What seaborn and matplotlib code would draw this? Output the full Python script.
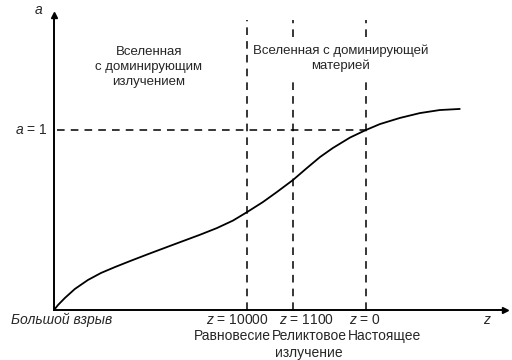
import matplotlib
matplotlib.use("Agg")
import matplotlib.pyplot as plt
import seaborn as sns
import pandas as pd

#  Scale factor a vs. time (arbitrary units, present = 1)
t_vals = [0.0, 0.013, 0.035, 0.067, 0.109, 0.151, 0.196, 0.247, 0.301,
          0.381, 0.468, 0.522, 0.574, 0.619, 0.670, 0.715, 0.766, 0.811,
          0.853, 0.894, 0.949, 1.0, 1.045, 1.109, 1.173, 1.237, 1.301]
a_vals = [0.0, 0.028, 0.067, 0.117, 0.167, 0.206, 0.239, 0.274, 0.310,
          0.362, 0.418, 0.455, 0.497, 0.544, 0.600, 0.656, 0.722, 0.789,
          0.850, 0.900, 0.958, 1.0, 1.033, 1.067, 1.094, 1.111, 1.117]

#  Epochs marked on the time axis
event_t = [0.619, 0.766, 1.0]
event_z = ["$z$ = 10000", "$z$ = 1100", "$z$ = 0"]
event_names = ["Равновесие", "Реликтовое\nизлучение", "Настоящее"]

era_labels = ["Вселенная\nс доминирующим\nизлучением",
              "Вселенная с доминирующей\nматерией"]

df = pd.DataFrame({"t": t_vals, "a": a_vals})

sns.set_style("white")
plt.rcParams["font.family"] = ["Liberation Sans", "DejaVu Sans"]
plt.rcParams["mathtext.fontset"] = "custom"
plt.rcParams["mathtext.it"] = "Liberation Sans:italic"
plt.rcParams["mathtext.rm"] = "Liberation Sans"

fig = plt.figure(figsize=(5.12, 3.6), dpi=100)
ax = fig.add_axes([54 / 512, 50 / 360, 451 / 512, 295 / 360])
ax.set_xlim(0, 1.446)
ax.set_ylim(0, 1.639)

sns.lineplot(data=df, x="t", y="a", color="black", lw=1.3,
             estimator=None, sort=False, ax=ax)

#  dashed guides (the two right ones are broken by the label)
dash = (0, (5, 4))
ax.vlines(event_t[0], 0, 1.611, colors="black", lw=1.1, linestyles=dash)
ax.vlines(event_t[1:], 0, 1.278, colors="black", lw=1.1, linestyles=dash)
ax.vlines(event_t[1:], 1.517, 1.611, colors="black", lw=1.1, linestyles=dash)
ax.hlines(1.0, 0.01, event_t[2], colors="black", lw=1.1, linestyles=dash)

#  axes as arrows
for s in ["top", "right"]:
    ax.spines[s].set_visible(False)
for s in ["left", "bottom"]:
    ax.spines[s].set_linewidth(1.4)
    ax.spines[s].set_color("black")
ax.set_xticks([])
ax.set_yticks([])
ax.set_xlabel("")
ax.set_ylabel("")
ax.plot(1, 0, ">k", ms=5, transform=ax.get_yaxis_transform(), clip_on=False)
ax.plot(0, 1, "^k", ms=5, transform=ax.get_xaxis_transform(), clip_on=False)

fs = 10
ax.text(-0.048, 1.665, "a", style="italic", fontsize=fs, ha="center", va="center")
ax.text(-0.022, 1.0, "$a$ = 1", fontsize=fs, ha="right", va="center")
ax.text(0.026, -0.056, "Большой взрыв", style="italic", fontsize=fs,
        ha="center", va="center")
ax.text(1.388, -0.056, "z", style="italic", fontsize=fs, ha="center", va="center")

z_x = [0.587, 0.811, 0.997]
name_x = [0.571, 0.818, 1.061]
for zx, nx, z, name in zip(z_x, name_x, event_z, event_names):
    ax.text(zx, -0.056, z, fontsize=fs, ha="center", va="center")
    ax.text(nx, -0.105, name, fontsize=fs, ha="center", va="top", linespacing=1.25)

ax.text(0.304, 1.35, era_labels[0], fontsize=9.5, ha="center", va="center",
        linespacing=1.3)
ax.text(0.920, 1.40, era_labels[1], fontsize=9.5, ha="center", va="center",
        linespacing=1.3)

fig.savefig("out.png", dpi=100)
